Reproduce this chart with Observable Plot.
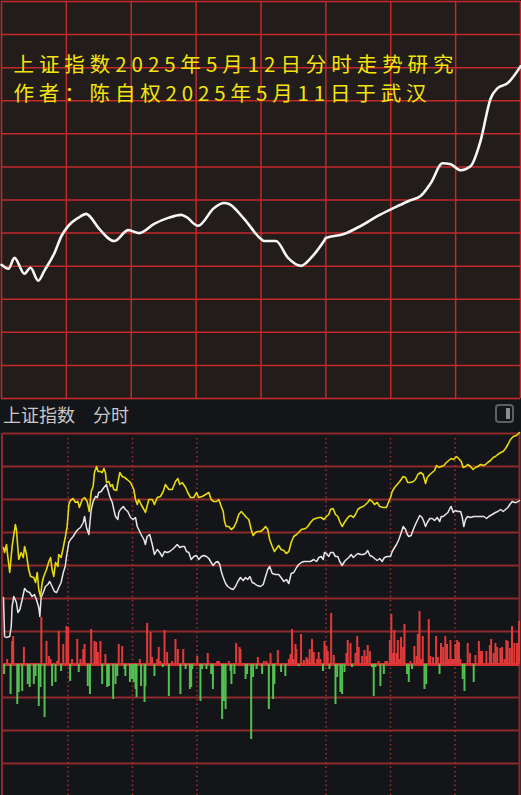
<!DOCTYPE html>
<html><head><meta charset="utf-8">
<script src="https://cdn.jsdelivr.net/npm/d3@7"></script>
<script src="https://cdn.jsdelivr.net/npm/@observablehq/plot@0.6"></script>
<style>
html,body{margin:0;padding:0;background:#141518;}
#wrap{position:relative;width:521px;height:795px;overflow:hidden;background:#141518;font-family:"Noto Sans CJK SC",sans-serif;}
#top{position:absolute;left:0;top:0;z-index:1;}
#bot{position:absolute;left:0;top:400px;z-index:1;}
.hdr{position:absolute;top:403px;font-size:18px;line-height:22px;color:#c8c8c8;white-space:nowrap;z-index:5;}
#icon{position:absolute;left:495px;top:404px;width:15px;height:15px;border:2px solid #5c6065;border-radius:4px;z-index:5;}
#icon i{position:absolute;left:9px;top:2px;width:4px;height:11px;background:#8a8e93;}
</style></head>
<body><div id="wrap">
<div id="top"></div>
<div id="bot"></div>
<div class="hdr" style="left:3px">上证指数</div>
<div class="hdr" style="left:93px">分时</div>
<div id="icon"><i></i></div>
</div>
<script>
// ---------- text ----------
const titleLines = ["上证指数2025年5月12日分时走势研究", "作者：陈自权2025年5月11日于武汉"];

// ---------- top panel: forecast curve (minute, grid-row units) ----------
const topT = [0,3.2,6,10.6,13.4,17,19.8,24.5,27.7,30.9,35.5,39.2,40.6,44.8,52.2,58.6,63.7,70.6,77.1,83.1,85.4,90.9,98.3,102.9,105.2,112.2,120,121.4,126.9,132.5,138.5,143.1,149.1,150,158.3,166.2,174,181.4,188.3,193.8,198.5,204,207.7,212.3,216.9,221.5,226.2,229.4,234,240];
const topV = [4.04,3.92,4.25,3.77,3.95,3.56,3.86,4.40,4.91,5.22,5.46,5.58,5.52,5.16,4.76,5.09,5.00,5.28,5.46,5.55,5.49,5.22,5.76,5.91,5.88,5.43,4.82,4.76,4.76,4.25,4.01,4.25,4.76,4.85,4.97,5.22,5.52,5.76,5.97,6.12,6.51,7.11,7.08,6.90,7.02,7.78,9.07,9.38,9.53,10.04];
const topGridX = [0,30,60,90,120,150,180,210,240];
const topGridY = [0,1,2,3,4,5,6,7,8,9,10,11,12];

// ---------- bottom panel: intraday lines (minute, value) ----------
const yellowPts = [[0,117],[0.5,112],[1.4,120],[2,108],[2.9,92],[4,118],[5.5,140],[6,135],[7.1,105],[8.2,112],[9.2,107],[9.8,118],[10.7,110],[11.7,95],[12.6,88],[14.1,87],[14.9,82],[15.7,92],[16.4,75],[17.2,68],[18,82],[18.7,88],[20,95],[21.1,103],[21.9,107],[22.6,95],[23.4,88],[24.2,102],[25.3,98],[25.7,110],[26.8,107],[27.8,117],[28.8,128],[29.6,138],[30.4,160],[31.1,164],[32.3,166],[33.5,162],[34.6,163],[35.3,157],[36.6,165],[37.7,167],[38.9,163],[39.9,153],[40.8,173],[41.7,178],[42.3,192],[43.3,198],[44,193],[45.1,193],[45.9,192],[46.7,196],[47.4,192],[47.9,182],[49,183],[49.8,178],[50.6,180],[51.3,175],[52.6,174],[53.2,182],[54.1,192],[55.2,188],[56.3,187],[57.5,185],[59.1,182],
[60.6,175],[61.4,165],[62.2,160],[62.9,165],[64,160],[65.3,155],[66,152],[67.6,165],[69.2,165],[70.2,160],[71.5,167],[73,168],[74.3,173],[75.3,180],[76.9,175],[78.5,175],[80,183],[81.1,186],[82,180],[83.1,182],[84.7,177],[85.7,172],[87,167],[88.5,167],[89.8,172],[90.8,167],[92.4,168],[94,170],[95.5,172],[96.6,165],[97.8,163],[99.1,163],[100.1,165],[101.3,158],[102.2,153],[102.8,143],[103.6,138],[104.8,138],[105.9,135],[107.1,137],[108.4,143],[109.4,150],[110.6,153],[111.8,150],[113,147],[114.1,145],[115.2,135],[116.1,129],[117.2,132],[118.3,133],[119.5,133],
[120.8,135],[121.9,138],[122.9,135],[123.8,125],[125,118],[126,113],[127.3,117],[128,119],[129.1,115],[130.4,114],[131.5,111],[132.7,113],[133.8,122],[135,128],[136.3,130],[137.3,132],[138.5,135],[140.5,136],[141.5,138],[142.8,142],[144,145],[145.1,146],[146.7,147],[147.8,147],[149,145],[150.2,148],[151.3,150],[152.1,155],[153.3,156],[154.4,150],[155.5,148],[156.4,143],[157.5,138],[158.6,142],[159.5,145],[160.6,148],[161.7,149],[162.7,147],[163.7,150],[164.8,155],[166,157],[167.3,158],[168.4,160],[169.4,162],[170.4,165],[171.5,163],[172.6,160],[173.8,162],[175,158],[176.6,157],[178.1,157],[179.2,163],[180,167],
[180.8,173],[181.9,177],[183.1,180],[184.3,183],[185.9,188],[187,187],[188,182],[189.3,182],[190.6,183],[191.6,185],[192.7,190],[194,192],[195.2,190],[196.3,181],[197.1,187],[198.3,190],[199.4,192],[200.5,194],[201.4,199],[202.5,197],[203.6,198],[204.8,199],[206,202],[207.1,204],[208.2,206],[209.4,205],[210.7,208],[211.7,206],[212.9,203],[213.8,197],[214.9,198],[215.9,200],[217.2,198],[218.4,195],[219.5,197],[220.6,198],[221.9,200],[223.1,199],[224.2,200],[225.2,202],[226.5,204],[227.8,207],[228.8,208],[229.9,210],[231.2,212],[232.4,213],[233.5,216],[234.6,220],[235.8,225],[237.1,228],[238.6,229],[240,232]];

const whitePts = [[0,67],[0.5,28],[1.2,27],[2.9,28],[3.6,38],[4,58],[4.8,68],[6,62],[6.7,52],[7.6,55],[8.7,65],[9.8,76],[11,73],[12.2,72],[13.3,68],[14.4,70],[15.3,65],[16.4,57],[16.9,48],[17.5,67],[18.5,72],[19.5,78],[20.6,80],[21.5,83],[22.6,78],[23.7,73],[24.7,72],[25.7,77],[26.8,82],[27.8,92],[28.7,98],[29.3,108],[30.4,122],[31.2,125],[32.4,128],[33.5,132],[34.6,135],[35.8,137],[37.1,142],[37.7,148],[38.6,137],[39.7,130],[40.2,142],[40.8,155],[41.7,163],[42.8,168],[43.6,167],[44.3,172],[45.4,173],[46.7,177],[47.9,180],[48.5,175],[49.4,168],[50.6,162],[51.3,155],[52.1,148],[53.2,145],[53.6,152],[54.4,155],[55.7,158],[56.7,155],[57.8,153],[59.1,147],
[60.3,145],[61.4,147],[62.2,138],[62.9,135],[64,130],[65.3,125],[66,120],[66.8,128],[68,130],[69.2,120],[70.2,110],[71.5,115],[72.7,112],[73.8,108],[74.9,113],[76.1,112],[77.3,113],[78.5,115],[79.5,117],[80.8,120],[82,117],[83.1,118],[84.2,118],[85.1,113],[86.2,112],[87.3,105],[88.5,108],[89.8,109],[90.8,105],[92,108],[93.2,109],[94.4,108],[95.5,106],[96.6,102],[97.5,99],[98.6,102],[99.7,103],[100.6,100],[101.3,93],[102.2,87],[103.3,81],[104.3,78],[105.6,76],[106.8,75],[107.9,78],[109,83],[110.2,87],[111.5,84],[112.6,87],[113.6,85],[114.6,88],[115.7,82],[116.7,81],[118,79],[119.5,78],
[120.8,80],[121.9,88],[122.9,95],[123.8,98],[125,91],[126.5,90],[128,90],[129.1,87],[130.4,83],[131.6,85],[132.7,81],[133.8,91],[135,92],[136.3,97],[137.3,100],[138.5,102],[139.7,103],[141.3,103],[142.8,103],[144.3,105],[145.6,103],[146.7,107],[147.8,108],[148.7,105],[149.3,112],[150.2,111],[151.3,108],[152.1,112],[153.3,112],[154.4,108],[155.5,108],[156.4,103],[157.5,99],[158.6,103],[159.5,105],[160.6,107],[161.7,110],[162.7,107],[163.7,109],[164.8,111],[166,110],[167.3,110],[168.4,111],[169.4,114],[170.4,109],[171.5,108],[172.6,106],[173.8,104],[175,106],[176.1,103],[177.2,107],[178.5,108],[180,108],
[180.8,113],[181.9,117],[182.8,120],[183.9,125],[185,132],[185.9,138],[187,135],[187.8,130],[188.5,128],[189.6,129],[190.6,135],[191.6,140],[192.7,145],[193.6,149],[194.7,147],[195.5,143],[196.3,138],[197.1,142],[198.3,146],[199.4,146],[200.5,144],[201.7,147],[202.9,143],[203.6,148],[204.5,148],[205.6,150],[206.7,152],[207.6,156],[208.2,158],[209.2,152],[210.2,154],[211.3,153],[212.6,153],[213.3,148],[214.1,138],[214.9,145],[215.9,148],[217.2,147],[218.7,148],[220.3,148],[221.9,148],[223.4,148],[224.7,146],[225.7,148],[227.3,150],[228.8,152],[229.9,153],[231.2,155],[232.4,153],[233.5,155],[234.6,157],[235.5,160],[236.6,163],[237.7,162],[238.6,162],[240,164]];

// ---------- bottom panel: red/green bars (minute, value) ----------
const barPts = [[0.3,-10],[1.7,5],[3.3,-30],[4.0,23],[4.5,28],[6.4,-40],[7.1,-28],[8.7,-27],[9.5,17],[11.3,-20],[12.2,-23],[14.1,-20],[14.9,-12],[16.4,-42],[17.2,-23],[17.6,47],[19.1,-53],[20.0,23],[21.1,8],[21.9,5],[22.6,-22],[24.2,-18],[25.0,3],[25.7,33],[26.8,-7],[27.8,20],[29.3,38],[30.1,37],[31.0,-17],[31.9,5],[34.3,25],[35.0,-8],[35.8,5],[37.1,15],[37.7,20],[39.2,-22],[40.2,-30],[40.8,35],[42.3,23],[43.1,22],[43.9,12],[45.1,23],[45.9,-20],[47.4,10],[48.2,-23],[49.0,-22],[51.0,-35],[52.1,-20],[52.9,-12],[53.6,20],[55.2,18],[56.3,-5],[56.7,-12],[58.8,-18],[59.8,-15],[60.6,-18],[61.4,-25],[61.9,-33],[63.4,5],[64.0,-22],[65.6,-38],[66.0,-22],[66.8,41],[68.4,32],[69.1,7],[70.2,-12],[71.5,5],[72.2,17],[73.0,3],[74.1,-3],[74.9,34],[76.1,12],[76.9,-32],[78.4,3],[80.0,25],[81.1,15],[82.3,-30],[83.6,15],[84.7,-5],[86.7,-25],[87.3,-23],[87.8,-5],[90.1,8],[91.6,-37],[92.4,-5],[94.4,-5],[95.0,11],[96.6,-10],[97.4,-25],[99.4,3],[100.2,3],[101.7,-55],[102.5,-37],[103.3,-45],[104.8,3],[105.6,-7],[106.0,-20],[107.4,-10],[108.2,21],[109.8,17],[110.2,15],[112.6,-15],[113.3,-10],[115.2,-75],[116.1,-13],[117.7,-5],[118.3,7],
[120.3,-10],[121.1,3],[122.3,3],[123.4,-45],[124.2,11],[125.4,-35],[126.0,-20],[127.6,14],[129.1,-8],[131.1,-12],[132.7,5],[133.5,10],[134.2,35],[135.0,5],[135.8,20],[136.2,15],[137.3,-2],[138.4,30],[139.7,4],[140.9,7],[141.5,5],[142.4,15],[143.5,25],[144.3,12],[145.9,5],[146.6,12],[147.4,5],[148.6,-7],[149.3,23],[150.2,18],[150.8,13],[151.6,-5],[152.4,51],[153.6,9],[154.4,-40],[155.2,-13],[156.7,-28],[157.5,-30],[158.6,-8],[159.5,11],[160.1,24],[161.4,21],[162.1,-3],[163.7,11],[164.5,28],[165.2,17],[166.8,8],[167.9,14],[168.8,8],[169.4,19],[170.4,13],[171.4,-3],[172.2,-32],[173.0,-3],[174.5,3],[175.3,-22],[176.9,-10],[177.6,3],[178.4,3],[179.7,24],[180.4,50],[181.2,11],[181.8,34],[182.8,11],[183.4,24],[184.3,5],[184.9,27],[185.9,17],[186.5,40],[187.7,-10],[188.5,-18],[189.3,3],[190.0,-5],[191.1,18],[192.1,8],[192.7,30],[193.5,53],[194.2,5],[195.0,28],[195.8,-25],[196.6,-20],[197.8,45],[198.6,8],[199.8,7],[201.2,28],[202.0,7],[202.8,-10],[203.5,21],[204.5,17],[205.5,28],[206.3,20],[207.1,5],[207.9,24],[208.6,5],[209.4,5],[210.2,20],[211.0,24],[211.8,22],[212.5,5],[213.6,-15],[214.4,-27],[215.9,21],[216.9,11],[218.7,-18],[219.5,9],[221.1,23],[221.8,13],[222.6,13],[224.6,13],[226.2,19],[226.8,25],[228.0,11],[228.8,21],[229.6,17],[231.1,16],[231.9,17],[233.0,5],[233.9,24],[234.5,23],[235.5,16],[236.5,38],[237.6,21],[238.8,21],[239.8,43]];

const botGridY = [-99,-66,-33,33,66,99,132,165,198,231];
const dotTimes = [30,60,90,150,180,210];

// ---------- build ----------
const topData = topT.map((t,i)=>({t, v: topV[i]}));
const yellow = yellowPts.map(([t,v])=>({t,v}));
const white = whitePts.map(([t,v])=>({t,v}));
const bars = barPts.map(([t,v])=>({t,v,c: v>=0 ? "#e23a3b" : "#52c152"}));

const topPlot = Plot.plot({
  width: 521, height: 400,
  marginTop: 1, marginLeft: 1, marginRight: 1, marginBottom: 2,
  x: {domain: [0,240], axis: null},
  y: {domain: [0,12], axis: null},
  style: {background: "#221c1b", overflow: "visible"},
  marks: [
    Plot.ruleY(topGridY, {stroke: "#c4282b", strokeWidth: 1.5}),
    Plot.ruleX(topGridX, {stroke: "#c4282b", strokeWidth: 1.5}),
    Plot.line(topData, {x: "t", y: "v", stroke: "#f6f6f6", strokeWidth: 2.6, curve: "monotone-x"}),
    Plot.text([titleLines.join("\n")], {text: d=>d, frameAnchor: "top-left", dx: 12, dy: 49, lineAnchor: "top", lineHeight: 1.45, fill: "#f3e50c", fontSize: 20.5, fontFamily: "Noto Sans CJK SC"})
  ]
});
const lens = [440, 413];
topPlot.querySelectorAll('g[aria-label="text"] tspan').forEach((el,i)=>{
  el.setAttribute("textLength", lens[i]);
  el.setAttribute("lengthAdjust", "spacing");
});
document.getElementById("top").appendChild(topPlot);

const botPlot = Plot.plot({
  width: 521, height: 395,
  marginTop: 33, marginBottom: 0, marginLeft: 3, marginRight: 2,
  x: {domain: [0,240], axis: null},
  y: {domain: [-131,231], axis: null},
  style: {background: "#141518", overflow: "visible"},
  marks: [
    Plot.ruleY(botGridY, {stroke: "#8e2a2b", strokeWidth: 2}),
    Plot.ruleX(dotTimes, {y1: -131, y2: 229, stroke: "#a0302f", strokeWidth: 1.5, strokeDasharray: "1.5,3"}),
    Plot.ruleX([0], {y1: -131, y2: 231, dx: -1.5, stroke: "#8e2a2b", strokeWidth: 2}),
    Plot.ruleX([240], {y1: -131, y2: 231, stroke: "#8e2a2b", strokeWidth: 2}),
    Plot.ruleY([0], {stroke: "#d83233", strokeWidth: 3}),
    Plot.ruleX(bars, {x: "t", y1: 0, y2: "v", stroke: "c", strokeWidth: 2}),
    Plot.line(white, {x: "t", y: "v", stroke: "#e6e6e8", strokeWidth: 1.5}),
    Plot.line(yellow, {x: "t", y: "v", stroke: "#e4da0e", strokeWidth: 1.6})
  ]
});
document.getElementById("bot").appendChild(botPlot);
</script>
</body></html>
